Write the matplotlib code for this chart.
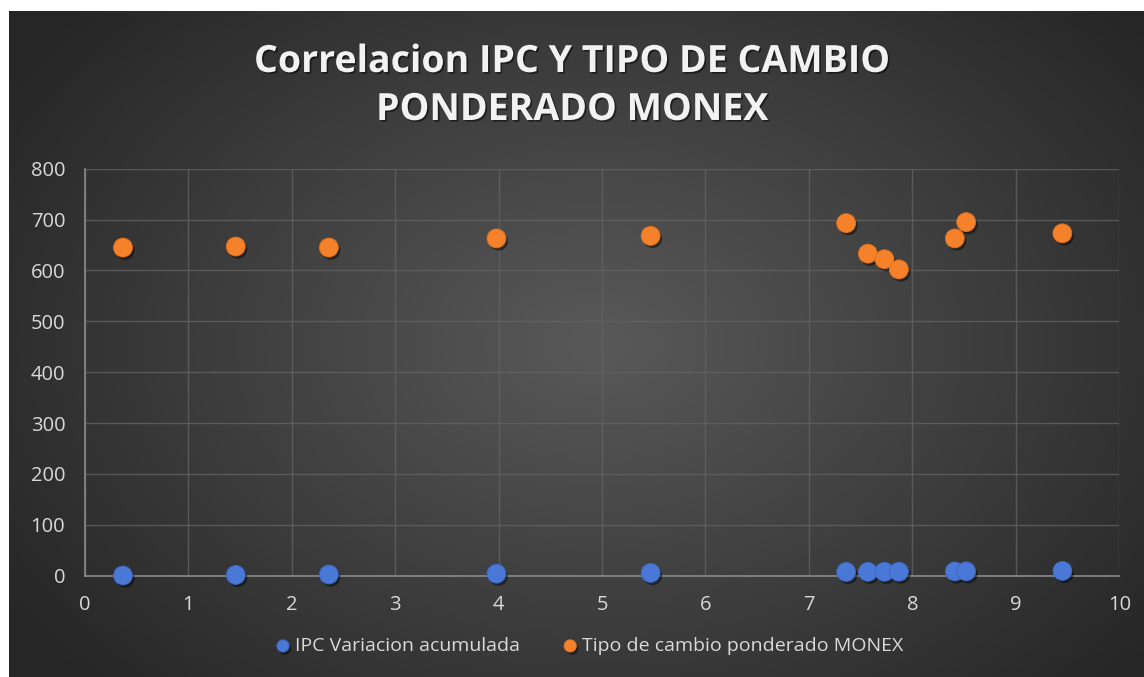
#!/usr/bin/env python3
"""Scatter: Correlacion IPC y tipo de cambio ponderado MONEX."""

import matplotlib.pyplot as plt
import matplotlib.patheffects as pe
import numpy as np

# IPC variacion acumulada (x) and the two series
ipc_x = [0.37, 1.46, 2.36, 3.98, 5.47, 7.36, 7.57, 7.73, 7.87, 8.41, 8.52, 9.45]
ipc_y = [0.4, 1.5, 2.4, 4.0, 5.5, 7.4, 7.6, 7.7, 7.9, 8.4, 8.5, 9.4]
monex = [645, 647, 645, 663, 668, 693, 633, 622, 602, 663, 695, 673]

x_ticks = list(range(0, 11))
y_ticks = list(range(0, 900, 100))

plt.rcParams["font.family"] = ["Open Sans", "DejaVu Sans"]

W, H = 1144, 677
fig = plt.figure(figsize=(W / 100, H / 100), dpi=100, facecolor="white")

# dark radial gradient panel
bg = fig.add_axes([9 / W, 0, 1 - 9 / W, 1 - 11 / H])
bg.set_axis_off()
yy, xx = np.mgrid[0:1:300j, 0:1:500j]
r = np.sqrt(((xx - 0.52) / 0.62) ** 2 + ((yy - 0.5) / 0.75) ** 2)
r = np.clip(r, 0, 1)
shade = 0.35 - (0.35 - 0.15) * r
bg.imshow(np.dstack([shade] * 3), aspect="auto", extent=[0, 1, 0, 1], interpolation="bicubic")

ax = fig.add_axes([84.7 / W, 1 - 575.7 / H, (1119.3 - 84.7) / W, (575.7 - 168.7) / H])
ax.set_facecolor("none")

shadow = [pe.SimplePatchShadow(offset=(1.5, -2.0), alpha=0.45, shadow_rgbFace="black"), pe.Normal()]

ax.scatter(ipc_x, ipc_y, s=185, color="#4a78d6", edgecolor="#3b66c2", linewidth=0.6,
           label="IPC Variacion acumulada", zorder=3, path_effects=shadow, clip_on=False)
ax.scatter(ipc_x, monex, s=185, color="#f5822a", edgecolor="#e0701c", linewidth=0.6,
           label="Tipo de cambio ponderado MONEX", zorder=3, path_effects=shadow, clip_on=False)

ax.set_xlim(0, 10)
ax.set_ylim(0, 800)
ax.set_xticks(x_ticks)
ax.set_yticks(y_ticks)
ax.grid(True, color="#626262", linewidth=1.0, alpha=0.8)
ax.set_axisbelow(True)
for side in ["top", "right"]:
    ax.spines[side].set_visible(False)
for side in ["left", "bottom"]:
    ax.spines[side].set_color("#8a8a8a")
    ax.spines[side].set_linewidth(1.2)
ax.tick_params(length=0, labelsize=14.5, labelcolor="#d9d9d9")
ax.tick_params(axis="y", pad=14)
ax.tick_params(axis="x", pad=14)

title_fx = [pe.withSimplePatchShadow(offset=(1.2, -1.2), alpha=0.5, shadow_rgbFace="black")]
fig.text(0.5, 1 - 62 / H, "Correlacion IPC Y TIPO DE CAMBIO", ha="center", va="center",
         fontsize=27, fontweight="bold", color="#f2f2f2", path_effects=title_fx)
fig.text(0.5, 1 - 110 / H, "PONDERADO MONEX", ha="center", va="center",
         fontsize=27, fontweight="bold", color="#f2f2f2", path_effects=title_fx)

leg = fig.legend(loc="center", bbox_to_anchor=(0.515, 1 - 646 / H), ncol=2, frameon=False,
                 fontsize=14, labelcolor="#d9d9d9", handletextpad=0.2, handlelength=0.8,
                 columnspacing=2.2, markerscale=0.65)

fig.savefig("out.png", dpi=100)
